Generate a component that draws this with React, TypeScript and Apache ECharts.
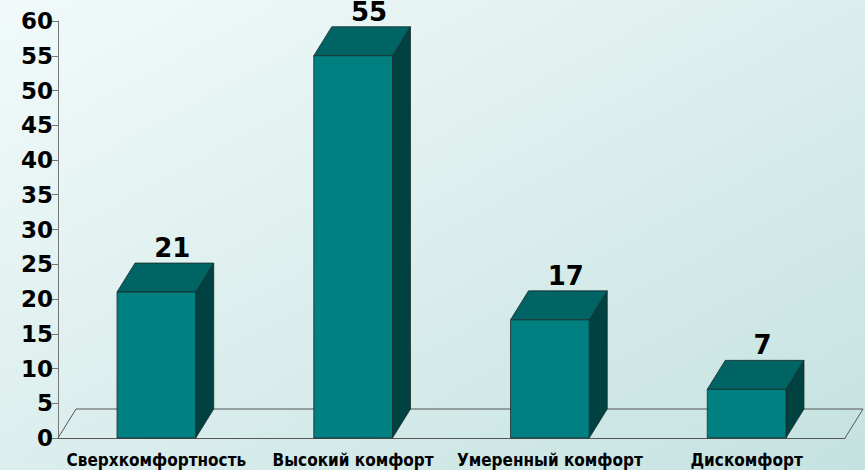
import React, { useEffect, useRef } from "react";
import * as echarts from "echarts";

const categories = ["Сверхкомфортность", "Высокий комфорт", "Умеренный комфорт", "Дискомфорт"];
const values = [21, 55, 17, 7];
const yTicks = { min: 0, max: 60, interval: 5 };

const DX = 18;
const DY = -29;

export default function App() {
  const ref = useRef<HTMLDivElement>(null);
  useEffect(() => {
    if (!ref.current) return;
    const chart = echarts.init(ref.current, null, { renderer: "svg" });
    const option: any = {
      animation: false,
      backgroundColor: {
        type: "linear",
        x: 0,
        y: 0,
        x2: 1,
        y2: 1,
        colorStops: [
          { offset: 0, color: "#f2fafa" },
          { offset: 1, color: "#c4e2e0" },
        ],
      },
      grid: { left: 58, right: 20, top: 21, bottom: 32 },
      xAxis: {
        type: "category",
        data: categories,
        axisLine: { show: true, lineStyle: { color: "#555", width: 1 } },
        axisTick: { show: false },
        axisLabel: {
          interval: 0,
          margin: 13,
          color: "#000",
          fontWeight: "bold",
          fontSize: 17,
          fontFamily: "'Liberation Sans Narrow', 'DejaVu Sans Condensed', 'Liberation Sans', sans-serif",
        },
        splitLine: { show: false },
      },
      yAxis: {
        type: "value",
        min: yTicks.min,
        max: yTicks.max,
        interval: yTicks.interval,
        axisLine: { show: true, lineStyle: { color: "#777", width: 1 } },
        axisTick: { show: true, length: 6, lineStyle: { color: "#777" } },
        axisLabel: {
          margin: 5,
          color: "#000",
          fontWeight: "bold",
          fontSize: 23,
          fontFamily: "'DejaVu Sans', sans-serif",
        },
        splitLine: { show: false },
      },
      series: [
        {
          type: "custom",
          z: 1,
          silent: true,
          data: [0],
          renderItem: (params: any, api: any) => {
            const cs = params.coordSys;
            const x0 = cs.x;
            const x1 = cs.x + cs.width;
            const y0 = cs.y + cs.height;
            const st = { stroke: "#555", lineWidth: 1, fill: null };
            return {
              type: "group",
              children: [
                { type: "line", shape: { x1: x0, y1: y0, x2: x0 + DX, y2: y0 + DY }, style: st },
                { type: "line", shape: { x1: x0 + DX, y1: y0 + DY, x2: x1 + DX, y2: y0 + DY }, style: st },
                { type: "line", shape: { x1: x1, y1: y0, x2: x1 + DX, y2: y0 + DY }, style: st },
              ],
            };
          },
        },
        {
          type: "custom",
          z: 2,
          data: values.map((v, i) => [i, v]),
          encode: { x: 0, y: 1 },
          renderItem: (params: any, api: any) => {
            const i = api.value(0);
            const v = api.value(1);
            const top = api.coord([i, v]);
            const base = api.coord([i, 0]);
            const bw = api.size([1, 0])[0] * 0.4;
            const L = top[0] - bw / 2;
            const R = top[0] + bw / 2;
            const ty = top[1];
            const by = base[1];
            const edge = { stroke: "#1a2a2a", lineWidth: 0.8 };
            return {
              type: "group",
              children: [
                {
                  type: "polygon",
                  shape: { points: [[R, ty], [R + DX, ty + DY], [R + DX, by + DY], [R, by]] },
                  style: { fill: "#004242", ...edge },
                },
                {
                  type: "polygon",
                  shape: { points: [[L, ty], [R, ty], [R + DX, ty + DY], [L + DX, ty + DY]] },
                  style: { fill: "#006464", ...edge },
                },
                {
                  type: "rect",
                  shape: { x: L, y: ty, width: bw, height: by - ty },
                  style: { fill: "#008080", ...edge },
                },
                {
                  type: "text",
                  style: {
                    text: String(v),
                    x: top[0] + 16,
                    y: ty + DY - 2,
                    align: "center",
                    verticalAlign: "bottom",
                    fill: "#000",
                    font: "bold 26px 'DejaVu Sans', sans-serif",
                  },
                },
              ],
            };
          },
        },
      ],
    };
    chart.setOption(option);
    return () => chart.dispose();
  }, []);
  return <div ref={ref} style={{ position: "fixed", left: 0, top: 0, width: 865, height: 470 }} />;
}
